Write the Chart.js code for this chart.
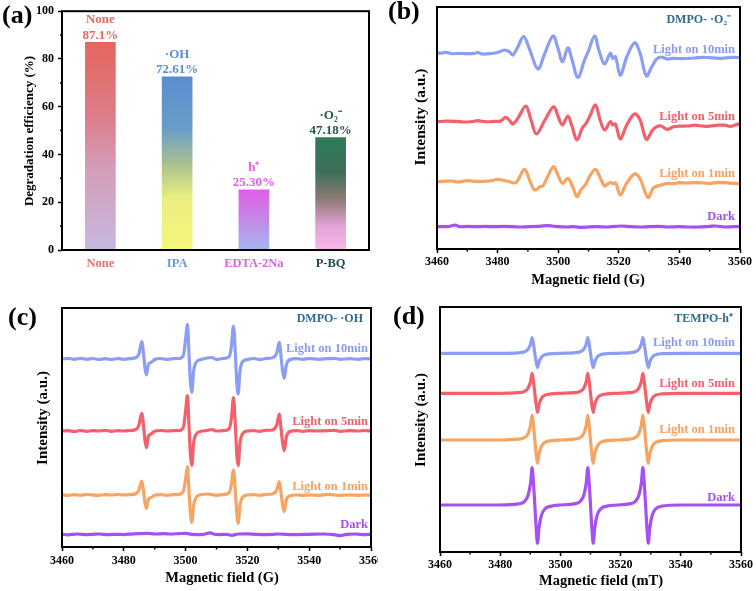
<!DOCTYPE html>
<html><head><meta charset="utf-8">
<script src="https://cdn.jsdelivr.net/npm/chart.js@4.4.1/dist/chart.umd.min.js"></script>
<style>
html,body{margin:0;padding:0;background:#fff;}
body{width:756px;height:591px;position:relative;overflow:hidden;}
.p{position:absolute;overflow:hidden;}
canvas{display:block;}
</style></head><body>
<div class="p" style="left:0;top:0;width:378px;height:295px"><canvas id="ca" width="378" height="295"></canvas></div>
<div class="p" style="left:378px;top:0;width:378px;height:295px"><canvas id="cb" width="378" height="295"></canvas></div>
<div class="p" style="left:0;top:295px;width:378px;height:296px"><canvas id="cc" width="400" height="296"></canvas></div>
<div class="p" style="left:378px;top:295px;width:378px;height:296px"><canvas id="cd" width="378" height="296"></canvas></div>
<script>
// ---------- DATA ----------
const barCategories = ['None','IPA','EDTA-2Na','P-BQ'];
const barValues = [87.1, 72.61, 25.30, 47.18];
const barSpecies = ['None','·OH','h⁺','·O₂⁻'];
const barValueLabels = ['87.1%','72.61%','25.30%','47.18%'];
const yTicksA = [0,20,40,60,80,100];
const yMinorA = [10,30,50,70,90];
const fieldTicks = [3460,3480,3500,3520,3540,3560];
const fieldMinor = [3470,3490,3510,3530,3550];
const traceNames = ['Light on 10min','Light on 5min','Light on 1min','Dark'];

// (b) DMPO-·O2- spectra: [field (G), intensity relative to own baseline]
const b_10min = [[3460,0.7],[3462,1.2],[3463,1.7],[3465,0.3],[3467,0.7],[3470,0.3],[3472,0.5],[3473.5,1.5],[3475,0],[3478,0.5],[3480,1.5],[3482.3,4],[3484,2],[3485,-1],[3486.5,6],[3488.6,17.3],[3490.5,5],[3493.3,-15],[3495.5,0],[3498.3,18],[3500,5],[3501.4,-7.7],[3503.2,6.3],[3504.5,-5],[3506.5,-23.3],[3508.7,-6],[3510,3],[3512,18],[3513.5,3],[3515.3,-10],[3517.2,0.7],[3518,-4.3],[3518.9,-2.7],[3520.5,-21.3],[3522.5,-4],[3525.2,11.3],[3527,1],[3529.1,-22],[3531,-12],[3532.5,-5],[3534,-3],[3536,-5],[3538,-4.3],[3541,-4.7],[3545,-4],[3548,-3.3],[3550,-3.7],[3553,-4.3],[3555,-4],[3558,-3.3],[3560,-3.7]];
const b_5min = [[3460,0],[3463,0.5],[3466,0.3],[3469,-0.3],[3472,0.3],[3473.5,1],[3476,0],[3479,0.3],[3481,0.7],[3482.7,4.3],[3484,1],[3485,-2.3],[3486.8,4],[3489.3,15.7],[3491,2],[3492.8,-12.3],[3495.5,1],[3498.5,15],[3500,5],[3501.4,-3.3],[3503.2,5.7],[3504.5,-4],[3506.2,-18.3],[3508,-6],[3509.2,-1.7],[3510.5,6],[3512.3,16.7],[3513.8,2],[3515.3,-8.3],[3517.2,0],[3518,-3.3],[3518.9,-2.3],[3520.5,-17.3],[3522.5,-4],[3525.2,7.7],[3527,2],[3529.1,-17.7],[3531,-9],[3532.5,-5],[3534,-4.3],[3536,-7.7],[3538,-5],[3540,-4.5],[3543,-4.3],[3545,-3.5],[3548,-4.5],[3550,-4.5],[3553,-3.5],[3555,-3.5],[3557,-4.7],[3559,-2.7],[3560,-2.3]];
const b_1min = [[3460,0],[3462,0.3],[3465,0.7],[3467,-0.3],[3470,1],[3473,0.3],[3475,0.3],[3478,1],[3480,2.3],[3482,1.3],[3484,0],[3486,-1],[3488.9,12.3],[3490.5,2],[3492.2,-8.3],[3494,-5],[3495,-4],[3496.5,5],[3498.5,15],[3500,6],[3501.4,-1.7],[3503.2,3.3],[3504.5,-3],[3506.2,-15],[3507.5,-8],[3509,-3],[3510.5,6],[3512.3,12.3],[3514,3],[3515.3,-4.3],[3516.5,-2],[3517.5,-1],[3518.3,-2],[3519,-1.3],[3520.5,-13.3],[3522.5,-2],[3525.2,7.7],[3527,3],[3529.6,-15.7],[3531.5,-6],[3534,-3.3],[3536,-1.7],[3538,-2],[3540,-1],[3542,-1.3],[3545,-1],[3548,-1.3],[3550,-1.7],[3552,-1],[3555,-1],[3558,-1.7],[3560,-2]];
const b_dark = [[3460,0],[3462,0],[3464,0.3],[3466,1.7],[3467.5,0],[3470,0.3],[3473,0],[3476,0.3],[3479,0],[3482,0.3],[3485,0],[3488,-0.3],[3490,0],[3493,0.3],[3496,1],[3498,0.7],[3500,0],[3503,-0.3],[3505,0],[3508,-0.7],[3510,-0.3],[3513,0],[3516,-0.3],[3519,0.3],[3521,0.7],[3524,0],[3527,-0.3],[3530,0],[3533,0.3],[3536,-0.3],[3540,0],[3543,-0.3],[3546,-0.3],[3550,0.3],[3552,0.7],[3555,-0.3],[3558,0],[3560,0]];
const b_offsets = [195, 127.3, 67.3, 22.3];

// (c) DMPO-·OH spectra
const c_10min = [[3460,0],[3462,0.7],[3464,-0.3],[3466,0.7],[3468,-0.3],[3470,0.5],[3472,-0.5],[3474,0.3],[3476,-0.5],[3478,0.5],[3480,-0.3],[3482,0.3],[3484,1.5],[3484.9,5],[3485.8,17.3],[3486.4,5],[3486.8,-8],[3487.3,-16],[3488,-5],[3488.8,-3.5],[3490,-0.5],[3492,0.5],[3494,-0.5],[3496,0.3],[3498,0.5],[3499.3,4],[3500,20],[3500.6,34.7],[3501.1,5],[3501.6,-25],[3502,-33.3],[3502.6,-12],[3503.5,-3],[3505,-0.5],[3507,1],[3508.5,1.5],[3510,-0.5],[3512,0.5],[3514,2],[3514.8,12],[3515.5,33],[3516.1,5],[3516.6,-25],[3517,-35],[3517.6,-12],[3518.5,-2.5],[3520,-0.5],[3522,0.5],[3524,-0.5],[3526,0.5],[3528,1],[3529.5,6],[3530.3,16.7],[3530.9,2],[3531.4,-12],[3531.9,-19.3],[3532.6,-6],[3533.5,-1],[3536,0.3],[3538,-0.3],[3540,0.5],[3543,-0.3],[3546,0.3],[3548,0.7],[3550,-0.3],[3553,0.3],[3556,-0.3],[3558,0.5],[3560,0]];
const c_5min = [[3460,0],[3462,0.3],[3464,-0.5],[3466,0.5],[3468,-0.3],[3470,0.3],[3472,0],[3474,0.7],[3476,-0.3],[3478,0.3],[3480,0],[3482,0.5],[3484,1.7],[3484.9,6],[3485.8,17.7],[3486.4,5],[3486.8,-8],[3487.3,-16.7],[3488,-5],[3488.8,-3],[3490,-0.3],[3492,0.5],[3494,0],[3496,0.3],[3498,0.5],[3499.3,4],[3500,20],[3500.6,35.3],[3501.1,5],[3501.6,-25],[3502,-34.7],[3502.6,-12],[3503.5,-3],[3505,-0.3],[3507,0.5],[3508.5,1.5],[3510,0],[3512,0.3],[3514,2],[3514.8,12],[3515.5,33.3],[3516.1,5],[3516.6,-25],[3517,-34.7],[3517.6,-12],[3518.5,-2.5],[3520,0],[3522,0.3],[3524,-0.3],[3526,0.7],[3528,1],[3529.5,6],[3530.3,17],[3530.9,2],[3531.4,-12],[3531.9,-19.7],[3532.6,-6],[3533.5,-1],[3536,0.3],[3538,-0.3],[3540,0.3],[3543,0],[3546,0.3],[3548,0.7],[3550,-0.3],[3553,0.3],[3556,0],[3558,0.5],[3560,0]];
const c_1min = [[3460,0],[3462,-0.3],[3464,0.3],[3466,-0.3],[3468,0.5],[3470,0],[3472,-0.3],[3474,0.3],[3476,0],[3478,0.5],[3480,0],[3482,0.3],[3484,1.5],[3484.9,5],[3485.8,14],[3486.4,4],[3486.8,-7],[3487.3,-13.3],[3488,-4],[3488.8,-2.5],[3490,-0.3],[3492,0.3],[3494,-0.3],[3496,0.3],[3498,0.7],[3499.3,4],[3500,16],[3500.6,28.3],[3501.1,4],[3501.6,-20],[3502,-27.3],[3502.6,-10],[3503.5,-2],[3505,0.3],[3507,1],[3508.5,0.5],[3510,-0.3],[3512,0.3],[3514,2],[3514.8,10],[3515.5,25],[3516.1,4],[3516.6,-20],[3517,-28.3],[3517.6,-10],[3518.5,-2],[3520,0],[3522,0.3],[3524,-0.3],[3526,0.5],[3528,1],[3529.5,5],[3530.3,13.3],[3530.9,2],[3531.4,-10],[3531.9,-16.7],[3532.6,-5],[3533.5,-1],[3536,0],[3538,-0.3],[3540,0],[3543,-0.3],[3546,0.7],[3548,0],[3550,-0.3],[3553,0],[3556,-0.3],[3558,0],[3560,-0.3]];
const c_dark = [[3460,0],[3462,-0.5],[3465,0.3],[3468,-0.3],[3470,0],[3472,0.3],[3475,-0.3],[3478,0],[3480,-0.3],[3483,0.5],[3486,0.7],[3488,1],[3490,0.3],[3493,0.7],[3495,0.3],[3498,0.7],[3500,1],[3502,0],[3505,-0.3],[3508,1.5],[3509,0.3],[3511,-0.3],[3513,0],[3515,-1],[3517,0.3],[3520,0.5],[3523,0],[3526,-0.3],[3530,0.3],[3535,-0.3],[3540,0],[3545,0.3],[3548,-0.3],[3550,-1.3],[3552,0],[3555,0.3],[3558,-0.3],[3560,0]];
const c_offsets = [188, 116, 52, 12.7];

// (d) TEMPO-h+ spectra
const d_10min = [[3460,0],[3480,0],[3486,0.5],[3488.1,1.6],[3489.3,4.2],[3490.1,9.4],[3490.6,15.7],[3491.05,9.4],[3491.5,0],[3491.95,-8.6],[3492.4,-14.3],[3492.9,-8.6],[3493.7,-3.9],[3494.9,-1.4],[3497,-0.4],[3500,0],[3504.5,0.5],[3506.6,1.6],[3507.8,4.2],[3508.6,9.4],[3509.1,15.7],[3509.55,9.4],[3510,0],[3510.45,-8.6],[3510.9,-14.3],[3511.4,-8.6],[3512.2,-3.9],[3513.4,-1.4],[3515.5,-0.4],[3519,0],[3522.8,0.5],[3524.9,1.6],[3526.1,4.2],[3526.9,9.4],[3527.4,15.7],[3527.85,9.4],[3528.3,0],[3528.75,-8.6],[3529.2,-14.3],[3529.7,-8.6],[3530.5,-3.9],[3531.7,-1.4],[3533.8,-0.4],[3540,0],[3560,0]];
const d_5min = [[3460,0],[3480,0],[3486,0.6],[3488.1,2],[3489.3,5.4],[3490.1,12],[3490.6,20],[3491.05,12],[3491.5,0],[3491.95,-11.4],[3492.4,-19],[3492.9,-11.4],[3493.7,-5.1],[3494.9,-1.9],[3497,-0.6],[3500,0],[3504.5,0.6],[3506.6,2],[3507.8,5.4],[3508.6,12],[3509.1,20],[3509.55,12],[3510,0],[3510.45,-11.4],[3510.9,-19],[3511.4,-11.4],[3512.2,-5.1],[3513.4,-1.9],[3515.5,-0.6],[3519,0],[3522.8,0.6],[3524.9,2],[3526.1,5.4],[3526.9,12],[3527.4,20],[3527.85,12],[3528.3,0],[3528.75,-11.4],[3529.2,-19],[3529.7,-11.4],[3530.5,-5.1],[3531.7,-1.9],[3533.8,-0.6],[3540,0],[3560,0]];
const d_1min = [[3460,0],[3480,0],[3486,0.8],[3488.1,2.5],[3489.3,6.7],[3490.1,15],[3490.6,25],[3491.05,15],[3491.5,0],[3491.95,-14],[3492.4,-23.3],[3492.9,-14],[3493.7,-6.3],[3494.9,-2.3],[3497,-0.7],[3500,0],[3504.5,0.8],[3506.6,2.5],[3507.8,6.7],[3508.6,15],[3509.1,25],[3509.55,15],[3510,0],[3510.45,-14],[3510.9,-23.3],[3511.4,-14],[3512.2,-6.3],[3513.4,-2.3],[3515.5,-0.7],[3519,0],[3522.8,0.8],[3524.9,2.5],[3526.1,6.7],[3526.9,15],[3527.4,25],[3527.85,15],[3528.3,0],[3528.75,-14],[3529.2,-23.3],[3529.7,-14],[3530.5,-6.3],[3531.7,-2.3],[3533.8,-0.7],[3540,0],[3560,0]];
const d_dark = [[3460,0],[3480,0],[3486,1.1],[3488.1,3.7],[3489.3,10],[3490.1,22.4],[3490.6,37.3],[3491.05,22.4],[3491.5,0],[3491.95,-23],[3492.4,-38.3],[3492.9,-23],[3493.7,-10.3],[3494.9,-3.8],[3497,-1.1],[3500,0],[3504.5,1.1],[3506.6,3.7],[3507.8,10],[3508.6,22.4],[3509.1,37.3],[3509.55,22.4],[3510,0],[3510.45,-23],[3510.9,-38.3],[3511.4,-23],[3512.2,-10.3],[3513.4,-3.8],[3515.5,-1.1],[3519,0],[3522.8,1.1],[3524.9,3.7],[3526.1,10],[3526.9,22.4],[3527.4,37.3],[3527.85,22.4],[3528.3,0],[3528.75,-23],[3529.2,-38.3],[3529.7,-23],[3530.5,-10.3],[3531.7,-3.8],[3533.8,-1.1],[3540,0],[3560,0]];
const d_offsets = [198.7, 158.7, 112, 47];

// ---------- STYLE ----------
const FONT = '"Liberation Serif", "Times New Roman", serif';
const traceColors = ['#8c9ef4','#f2606c','#f6a462','#a650f0'];
const traceLabelColors = ['#8b9cf0','#f0606e','#f5a262','#a24ff0'];
const barLabelColors = ['#e6685f','#5b8fd0','#e060e8','#1f5a45'];
const catColors = ['#e87070','#6a9ad8','#e060e8','#1f4a4a'];
const barGradStops = [
  [[0,'#e4665c'],[0.35,'#dc7c88'],[0.6,'#d49cb6'],[1,'#c6b8e0']],
  [[0,'#5a8dd0'],[0.3,'#6a9cc8'],[0.5,'#a8c090'],[0.7,'#e8ee80'],[1,'#f6f67a']],
  [[0,'#e05ee8'],[0.5,'#c488e6'],[1,'#a4b6f0']],
  [[0,'#2f7d56'],[0.3,'#3c6e5a'],[0.55,'#8e7a76'],[0.78,'#e0a2d4'],[1,'#f8b8ec']]
];

Chart.defaults.font.family = FONT;
Chart.defaults.font.weight = 'bold';
Chart.defaults.color = '#000';
Chart.defaults.animation = false;

// ---------- PLUGINS ----------
const textPlugin = { id:'texts', afterDraw(chart, args, opts){
  const ctx = chart.ctx;
  (opts.items||[]).forEach(it=>{
    ctx.save();
    ctx.font = 'bold ' + it.s + 'px ' + FONT;
    ctx.fillStyle = it.c || '#000';
    ctx.textAlign = it.a || 'center';
    ctx.textBaseline = 'middle';
    ctx.translate(it.x, it.y);
    if (it.r) ctx.rotate(it.r*Math.PI/180);
    ctx.fillText(it.t, 0, 0);
    ctx.restore();
  });
}};
const framePlugin = { id:'frame', afterDatasetsDraw(chart){
  const {left,top,right,bottom} = chart.chartArea; const ctx = chart.ctx;
  ctx.save(); ctx.strokeStyle='#000'; ctx.lineWidth=2;
  ctx.strokeRect(left,top,right-left,bottom-top); ctx.restore();
}};
const minorPlugin = { id:'minor', afterDraw(chart, args, opts){
  const ctx = chart.ctx; const ca = chart.chartArea;
  (opts.list||[]).forEach(m=>{
    const sc = chart.scales[m.scale];
    ctx.save(); ctx.strokeStyle='#000'; ctx.lineWidth=1.5;
    m.values.forEach(v=>{
      const p = sc.getPixelForValue(v);
      ctx.beginPath();
      if (sc.isHorizontal()) { ctx.moveTo(p, ca.bottom); ctx.lineTo(p, ca.bottom+m.len); }
      else { ctx.moveTo(ca.left, p); ctx.lineTo(ca.left-m.len, p); }
      ctx.stroke();
    });
    ctx.restore();
  });
}};
const barLabelPlugin = { id:'barLabels', afterDatasetsDraw(chart){
  const ctx = chart.ctx; const meta = chart.getDatasetMeta(0);
  meta.data.forEach((el,i)=>{
    ctx.save();
    ctx.font = 'bold 13px ' + FONT;
    ctx.fillStyle = barLabelColors[i];
    ctx.textAlign = 'center'; ctx.textBaseline = 'middle';
    ctx.fillText(barValueLabels[i], el.x, el.y - 6.5);
    ctx.fillText(barSpecies[i], el.x, el.y - 22);
    ctx.restore();
  });
}};

// ---------- (a) bar chart ----------
new Chart(document.getElementById('ca'), {
  type:'bar',
  data:{ labels: barCategories, datasets:[{
    data: barValues,
    barPercentage:0.8, categoryPercentage:0.5,
    backgroundColor:(c)=>{
      if (c.dataIndex === undefined) return '#ccc';
      const ch = c.chart;
      if (!ch.chartArea || !ch.scales.y) return barGradStops[c.dataIndex][0][1];
      const yTop = ch.scales.y.getPixelForValue(barValues[c.dataIndex]);
      const yBot = ch.scales.y.getPixelForValue(0);
      const g = ch.ctx.createLinearGradient(0, yTop, 0, yBot);
      barGradStops[c.dataIndex].forEach(s=>g.addColorStop(s[0], s[1]));
      return g;
    }
  }]},
  options:{
    responsive:false, devicePixelRatio:1,
    layout:{ padding:{left:0, top:7, right:9, bottom:0} },
    plugins:{ legend:{display:false}, tooltip:{enabled:false},
      texts:{ items:[
        {t:'(a)', x:2, y:16, s:26, a:'left'},
        {t:'Degradation efficiency (%)', x:30, y:131, s:13, r:-90}
      ]},
      minor:{ list:[{scale:'y', values:yMinorA, len:2}] }
    },
    scales:{
      x:{ grid:{display:false, drawTicks:false}, border:{display:false},
          ticks:{ padding:6, font:{size:12.5, weight:'bold'}, color:(c)=>catColors[c.index] },
          afterFit:(s)=>{ s.height = 45; } },
      y:{ min:0, max:100,
          grid:{drawOnChartArea:false, drawTicks:true, tickLength:4, tickWidth:1.5, tickColor:'#000'},
          border:{display:false},
          ticks:{ stepSize:20, padding:4, font:{size:12, weight:'bold'},
                  callback:(v)=> yTicksA.includes(v) ? String(v) : '' },
          afterFit:(s)=>{ s.width = 62; } }
    }
  },
  plugins:[barLabelPlugin, framePlugin, minorPlugin, textPlugin]
});

// ---------- spectra charts ----------
function spectrum(id, traces, offsets, yMax, pad, xh, tickPad, texts, smooth){
  const datasets = traces.map((tr,i)=>Object.assign({
    label: traceNames[i],
    data: tr.map(p=>({x:p[0], y:p[1] + offsets[i]})),
    borderColor: traceColors[i], borderWidth:3.2,
    pointRadius:0, fill:false
  }, smooth ? {tension:0.35} : {cubicInterpolationMode:'monotone'}));
  return new Chart(document.getElementById(id), {
    type:'line',
    data:{ datasets },
    options:{
      responsive:false, devicePixelRatio:1,
      layout:{ padding:pad },
      plugins:{ legend:{display:false}, tooltip:{enabled:false},
        texts:{ items:texts },
        minor:{ list:[{scale:'x', values:fieldMinor, len:2.5}] } },
      scales:{
        x:{ type:'linear', min:3460, max:3560,
            grid:{drawOnChartArea:false, drawTicks:true, tickLength:4, tickWidth:1.5, tickColor:'#000'},
            border:{display:false},
            ticks:{ stepSize:20, padding:tickPad, autoSkip:false, maxRotation:0, font:{size:12, weight:'bold'},
                    callback:(v)=> fieldTicks.includes(v) ? String(v) : '' },
            afterFit:(s)=>{ s.height = xh; } },
        y:{ display:false, min:0, max:yMax }
      }
    },
    plugins:[framePlugin, minorPlugin, textPlugin]
  });
}

const tl = (x, ys) => traceNames.map((n,i)=>({t:n, x:x, y:ys[i], s:12.5, a:'right', c:traceLabelColors[i]}));

spectrum('cb', [b_10min,b_5min,b_1min,b_dark], b_offsets, 242, {left:59, top:7, right:16, bottom:0}, 46, 2, [
  {t:'(b)', x:10, y:12, s:26, a:'left'},
  {t:'Intensity (a.u.)', x:43, y:117, s:15.5, r:-90},
  {t:'Magnetic field (G)', x:210, y:280, s:14.5},
  {t:'DMPO- ·O₂⁻', x:353, y:20, s:12, a:'right', c:'#2f6a8e'}
].concat(tl(357, [50,117,174,217])), true);

spectrum('cc', [c_10min,c_5min,c_1min,c_dark], c_offsets, 239, {left:62, top:13, right:29, bottom:0}, 44, 3, [
  {t:'(c)', x:8, y:23, s:26, a:'left'},
  {t:'Intensity (a.u.)', x:43, y:123, s:15, r:-90},
  {t:'Magnetic field (G)', x:222, y:283, s:14.5},
  {t:'DMPO- ·OH', x:363, y:24, s:12, a:'right', c:'#2f6a8e'}
].concat(tl(368, [54,127,192,230])), false);

spectrum('cd', [d_10min,d_5min,d_1min,d_dark], d_offsets, 245, {left:62, top:12, right:15, bottom:0}, 39, 2, [
  {t:'(d)', x:15, y:22, s:26, a:'left'},
  {t:'Intensity (a.u.)', x:43, y:125, s:15, r:-90},
  {t:'Magnetic field (mT)', x:223, y:286, s:14.5},
  {t:'TEMPO-h⁺', x:355, y:24, s:12, a:'right', c:'#2f6a8e'}
].concat(tl(357, [48,89,135,203])), false);
</script>
</body></html>
